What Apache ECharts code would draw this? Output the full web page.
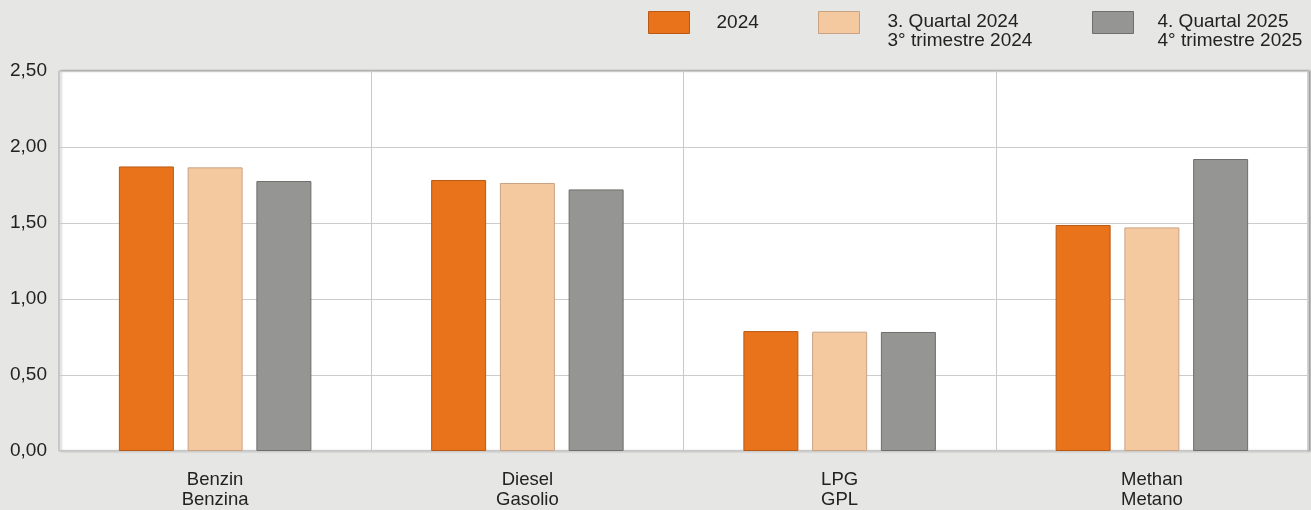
<!DOCTYPE html>
<html>
<head>
<meta charset="utf-8">
<script src="https://cdn.jsdelivr.net/npm/echarts@6/dist/echarts.min.js"></script>
<style>
html,body{margin:0;padding:0;background:#e6e6e5;}
#c{width:1311px;height:510px;}
</style>
</head>
<body>
<div id="c"></div>
<script>
const categories = ['Benzin\nBenzina', 'Diesel\nGasolio', 'LPG\nGPL', 'Methan\nMetano'];
const seriesNames = ['2024', '3. Quartal 2024\n3° trimestre 2024', '4. Quartal 2025\n4° trimestre 2025'];
const values2024 = [1.872, 1.783, 0.789, 1.487];
const valuesQ3_2024 = [1.866, 1.763, 0.785, 1.471];
const valuesQ4_2025 = [1.776, 1.721, 0.783, 1.921];
const yTicks = [0, 0.5, 1, 1.5, 2, 2.5];

const colors = ['#e8731a', '#f5c9a0', '#959593'];
const borders = ['#b85a14', '#c9a283', '#6e6e6c'];
const font = 'Liberation Sans, Arial, sans-serif';

const chart = echarts.init(document.getElementById('c'));
const legendLefts = [648, 818, 1092];
const legendTops = [11, 11, 11];
const legendItemHeights = [22, 39, 39];
// rect icon in the upper 22px of a taller box (text block sits lower than icon)
const tallIcon = 'path://M0,0L41,0L41,22L0,22ZM0,39';
const legendIcons = ['rect', tallIcon, tallIcon];
const legendPads = [22, 23, 19];
const seriesData = [values2024, valuesQ3_2024, valuesQ4_2025];

chart.setOption({
  backgroundColor: '#e6e6e5',
  animation: false,
  legend: seriesNames.map((n, i) => ({
    data: [n],
    left: legendLefts[i],
    top: legendTops[i],
    itemWidth: 41,
    itemHeight: legendItemHeights[i],
    icon: legendIcons[i],
    selectedMode: false,
    padding: 0,
    itemStyle: { borderColor: borders[i], borderWidth: 1 },
    textStyle: { fontFamily: font, fontSize: 19, color: '#222', lineHeight: 19, padding: [0, 0, 0, legendPads[i]] }
  })),
  grid: {
    left: 59, right: 3, top: 71, bottom: 58,
    show: true, backgroundColor: '#ffffff', borderColor: '#a8a8a8', borderWidth: 1,
    shadowColor: 'rgba(0,0,0,0.3)', shadowBlur: 2, shadowOffsetX: 2, shadowOffsetY: 0
  },
  xAxis: {
    type: 'category',
    data: categories,
    axisLine: { show: false },
    axisTick: { show: false },
    splitLine: { show: true, lineStyle: { color: '#c8c8c8', width: 1 } },
    axisLabel: { fontFamily: font, fontSize: 18.5, color: '#222', lineHeight: 20, margin: 19 }
  },
  yAxis: {
    type: 'value',
    min: yTicks[0],
    max: yTicks[yTicks.length - 1],
    interval: 0.5,
    axisLine: { show: false },
    axisTick: { show: false },
    splitLine: { lineStyle: { color: '#cccccc', width: 1 } },
    axisLabel: {
      fontFamily: font, fontSize: 19, color: '#222', margin: 12,
      formatter: v => v.toFixed(2).replace('.', ',')
    }
  },
  series: seriesNames.map((n, i) => ({
    name: n,
    type: 'bar',
    data: seriesData[i],
    barWidth: 55,
    barGap: '25%',
    itemStyle: { color: colors[i], borderColor: borders[i], borderWidth: 1 }
  }))
});
</script>
</body>
</html>
